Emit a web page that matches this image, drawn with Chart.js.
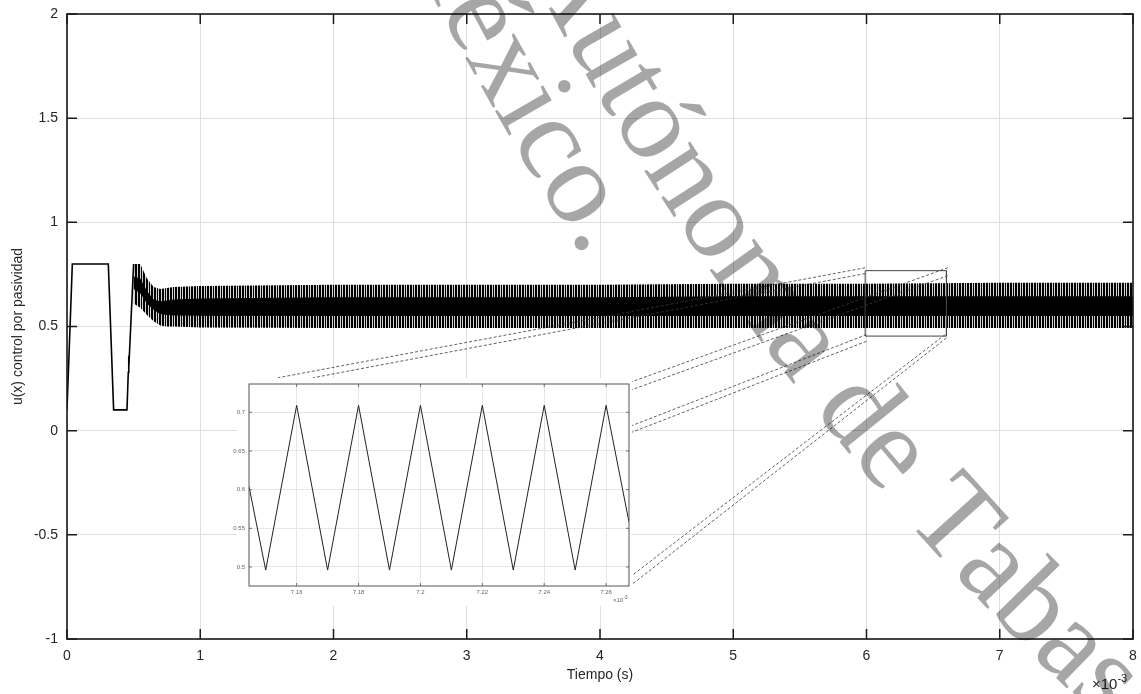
<!DOCTYPE html>
<html>
<head>
<meta charset="utf-8">
<script src="https://cdn.jsdelivr.net/npm/chart.js@4.4.1/dist/chart.umd.min.js"></script>
<style>
  html, body { margin: 0; padding: 0; background: #fff; }
  #wrap { position: relative; width: 1141px; height: 694px; }
  #main { position: absolute; left: 0; top: 0; }
  #zoom { position: absolute; left: 230px; top: 378px; }
</style>
</head>
<body>
<div id="wrap">
  <canvas id="main" width="1141" height="694"></canvas>
  <canvas id="zoom" width="402" height="228"></canvas>
</div>
<script>
// tiempo en ms (el eje lleva el factor x10^-3)
const tArranque = [0, 0.04, 0.31, 0.35, 0.45, 0.46, 0.462, 0.465, 0.50];
const uArranque = [0.10, 0.80, 0.80, 0.10, 0.10, 0.28, 0.36, 0.30, 0.80];

// envolvente de la oscilacion (banda negra)
const tBanda = [0.50, 0.55, 0.60, 0.65, 0.70, 0.75, 0.80, 1.0, 2.0, 3.0, 4.0, 5.0, 6.0, 7.0, 8.0];
const uMaxBanda = [0.80, 0.80, 0.73, 0.69, 0.68, 0.685, 0.69, 0.695, 0.70, 0.70, 0.70, 0.705, 0.705, 0.71, 0.71];
const uMinBanda = [0.61, 0.59, 0.555, 0.525, 0.505, 0.50, 0.50, 0.495, 0.493, 0.493, 0.493, 0.493, 0.493, 0.493, 0.493];
const uMaxNucleo = [0.74, 0.73, 0.67, 0.63, 0.62, 0.625, 0.63, 0.635, 0.64, 0.64, 0.64, 0.645, 0.645, 0.645, 0.645];
const uMinNucleo = [0.68, 0.66, 0.61, 0.58, 0.56, 0.555, 0.553, 0.552, 0.55, 0.55, 0.55, 0.55, 0.55, 0.55, 0.55];

const xTicks = [0, 1, 2, 3, 4, 5, 6, 7, 8];
const yTicks = [-1, -0.5, 0, 0.5, 1, 1.5, 2];

// recuadro del zoom y lineas de enlace
const cajaX = [5.99, 6.60, 6.60, 5.99, 5.99];
const cajaY = [0.768, 0.768, 0.454, 0.454, 0.768];
const enlaceDesdeX = [5.99, 5.99, 6.61, 6.61, 6.00, 6.00, 6.59, 6.60];
const enlaceDesdeY = [0.782, 0.754, 0.782, 0.744, 0.461, 0.429, 0.461, 0.445];
const enlaceHastaX = [1.583, 1.846, 4.24, 4.24, 4.238, 4.238, 4.238, 4.238];
const enlaceHastaY = [0.254, 0.254, 0.235, 0.197, 0.024, -0.008, -0.696, -0.739];

// detalle ampliado
const tZoom = [7.1446, 7.15, 7.16, 7.17, 7.18, 7.19, 7.20, 7.21, 7.22, 7.23, 7.24, 7.25, 7.26, 7.2674];
const uZoom = [0.604, 0.496, 0.709, 0.496, 0.709, 0.496, 0.709, 0.496, 0.709, 0.496, 0.709, 0.496, 0.709, 0.558];
const xTicksZoom = [7.16, 7.18, 7.2, 7.22, 7.24, 7.26];
const yTicksZoom = [0.5, 0.55, 0.6, 0.65, 0.7];

const fuente = '"Liberation Sans", Arial, Helvetica, sans-serif';
const pares = (xs, ys) => xs.map((x, i) => ({ x, y: ys[i] }));

// rayado vertical para la banda (periodo ~2.7 px)
const rayas = document.createElement('canvas');
rayas.width = 8; rayas.height = 4;
const rctx = rayas.getContext('2d');
rctx.fillStyle = '#000';
rctx.fillRect(0, 0, 8, 4);
rctx.fillStyle = '#d4d4d4';
[1, 4, 6].forEach(x => rctx.fillRect(x, 0, 1, 4));
const patronRayas = rctx.createPattern(rayas, 'repeat');

const marcas = {
  id: 'marcas',
  afterDraw(chart, args, o) {
    const { ctx, chartArea: a, scales: { x, y } } = chart;
    ctx.save();
    ctx.strokeStyle = o.color;
    ctx.lineWidth = o.tickWidth;
    ctx.beginPath();
    x.ticks.forEach(t => {
      const px = x.getPixelForValue(t.value);
      ctx.moveTo(px, a.bottom); ctx.lineTo(px, a.bottom - o.len);
      ctx.moveTo(px, a.top); ctx.lineTo(px, a.top + o.len);
    });
    y.ticks.forEach(t => {
      const py = y.getPixelForValue(t.value);
      ctx.moveTo(a.left, py); ctx.lineTo(a.left + o.len, py);
      ctx.moveTo(a.right, py); ctx.lineTo(a.right - o.len, py);
    });
    ctx.stroke();
    ctx.lineWidth = o.boxWidth;
    ctx.strokeRect(a.left, a.top, a.right - a.left, a.bottom - a.top);
    // factor de escala del eje x
    ctx.fillStyle = o.textColor;
    ctx.textAlign = 'left';
    ctx.textBaseline = 'alphabetic';
    ctx.font = o.expSize + 'px ' + fuente;
    ctx.fillText('\u00d710', o.expX, o.expY);
    const w = ctx.measureText('\u00d710').width;
    ctx.font = Math.round(o.expSize * 0.75) + 'px ' + fuente;
    ctx.fillText('-3', o.expX + w, o.expY - o.expSize * 0.45);
    ctx.restore();
  }
};

function textoEnArco(ctx, texto, cx, cy, r, phiAncla, idxAncla) {
  const letras = [...texto];
  const anchos = letras.map(c => ctx.measureText(c).width);
  let antes = anchos[idxAncla] / 2;
  for (let i = 0; i < idxAncla; i++) antes += anchos[i];
  let phi = phiAncla + antes / r;
  letras.forEach((c, i) => {
    const mid = phi - anchos[i] / 2 / r;
    ctx.save();
    ctx.translate(cx + r * Math.cos(mid), cy + r * Math.sin(mid));
    ctx.rotate(mid - Math.PI / 2);
    ctx.fillText(c, 0, 0);
    ctx.restore();
    phi -= anchos[i] / r;
  });
}

const marcaAgua = {
  id: 'marcaAgua',
  afterDraw(chart) {
    const ctx = chart.ctx;
    const g = Math.PI / 180;
    ctx.save();
    ctx.fillStyle = 'rgba(0,0,0,0.35)';
    ctx.font = '119px "Liberation Serif", "DejaVu Serif", serif';
    ctx.textAlign = 'center';
    ctx.textBaseline = 'alphabetic';
    const linea1 = 'Universidad Juárez Autónoma de Tabasco';
    textoEnArco(ctx, linea1, 2996, -1319, 2784, 142.8 * g, linea1.indexOf('ma de') + 1);
    const linea2 = 'México.';
    textoEnArco(ctx, linea2, 2996, -1319, 2881, 147.1 * g, linea2.length - 1);
    ctx.restore();
  }
};

const enlaces = enlaceDesdeX.map((x0, i) => ({
  data: [{ x: x0, y: enlaceDesdeY[i] }, { x: enlaceHastaX[i], y: enlaceHastaY[i] }],
  borderColor: '#3a3a3a',
  borderWidth: 0.8,
  borderDash: [3, 2],
  fill: false
}));

const sinBorde = { borderColor: 'rgba(0,0,0,0)', borderWidth: 0 };

// Chart.js pinta el primer dataset encima
new Chart(document.getElementById('main'), {
  type: 'line',
  data: {
    datasets: [
      ...enlaces,
      { data: pares(cajaX, cajaY), borderColor: '#444', borderWidth: 1, fill: false },
      { data: pares(tArranque, uArranque), borderColor: '#000', borderWidth: 1.6, fill: false },
      { data: pares(tBanda, uMaxNucleo), ...sinBorde, fill: '+1', backgroundColor: '#000' },
      { data: pares(tBanda, uMinNucleo), ...sinBorde, fill: false },
      { data: pares(tBanda, uMaxBanda), ...sinBorde, fill: '+1', backgroundColor: patronRayas },
      { data: pares(tBanda, uMinBanda), ...sinBorde, fill: false }
    ]
  },
  options: {
    responsive: false,
    animation: false,
    layout: { padding: { top: 14, right: 8, left: 0, bottom: 0 } },
    plugins: {
      legend: { display: false },
      tooltip: { enabled: false },
      marcas: { color: '#1a1a1a', len: 10, tickWidth: 1.5, boxWidth: 1.6, textColor: '#262626', expSize: 15, expX: 1092, expY: 689 }
    },
    elements: { point: { radius: 0 }, line: { tension: 0 } },
    scales: {
      x: {
        type: 'linear', min: 0, max: 8,
        afterBuildTicks: s => { s.ticks = xTicks.map(v => ({ value: v })); },
        afterFit: s => { s.height = 55; s.paddingLeft = 0; s.paddingRight = 0; },
        grid: { color: '#dedede', drawTicks: false },
        border: { display: false },
        ticks: { font: { family: fuente, size: 14 }, color: '#262626', padding: 9, maxRotation: 0, autoSkip: false, callback: v => String(v) },
        title: { display: true, text: 'Tiempo (s)', font: { family: fuente, size: 14 }, color: '#262626', padding: { top: 0, bottom: 10 } }
      },
      y: {
        type: 'linear', min: -1, max: 2,
        afterBuildTicks: s => { s.ticks = yTicks.map(v => ({ value: v })); },
        afterFit: s => { s.width = 67; s.paddingTop = 0; s.paddingBottom = 0; },
        grid: { color: '#dedede', drawTicks: false },
        border: { display: false },
        ticks: { font: { family: fuente, size: 14 }, color: '#262626', padding: 9, callback: v => String(v) },
        title: { display: true, text: 'u(x) control por pasividad', font: { family: fuente, size: 14 }, color: '#262626', padding: { top: 10, bottom: 0 } }
      }
    }
  },
  plugins: [marcas, marcaAgua]
});

const fondoBlanco = {
  id: 'fondoBlanco',
  beforeDraw(chart) {
    const ctx = chart.ctx;
    ctx.save();
    ctx.fillStyle = '#fff';
    ctx.fillRect(7, 0, chart.width - 7, chart.height);
    ctx.restore();
  }
};

new Chart(document.getElementById('zoom'), {
  type: 'line',
  data: {
    datasets: [
      { data: pares(tZoom, uZoom), borderColor: '#222', borderWidth: 1, fill: false }
    ]
  },
  options: {
    responsive: false,
    animation: false,
    layout: { padding: { top: 6, right: 3, left: 0, bottom: 0 } },
    plugins: {
      legend: { display: false },
      tooltip: { enabled: false },
      marcas: { color: '#555', len: 3, tickWidth: 0.8, boxWidth: 1, textColor: '#666', expSize: 6, expX: 383, expY: 224 }
    },
    elements: { point: { radius: 0 }, line: { tension: 0 } },
    scales: {
      x: {
        type: 'linear', min: 7.1446, max: 7.2674,
        afterBuildTicks: s => { s.ticks = xTicksZoom.map(v => ({ value: v })); },
        afterFit: s => { s.height = 20; s.paddingLeft = 0; s.paddingRight = 0; },
        grid: { color: '#e6e6e6', drawTicks: false },
        border: { display: false },
        ticks: { font: { family: fuente, size: 6 }, color: '#666', padding: 3, maxRotation: 0, autoSkip: false, callback: v => String(v) }
      },
      y: {
        type: 'linear', min: 0.4754, max: 0.7366,
        afterBuildTicks: s => { s.ticks = yTicksZoom.map(v => ({ value: v })); },
        afterFit: s => { s.width = 19; s.paddingTop = 0; s.paddingBottom = 0; },
        grid: { color: '#e6e6e6', drawTicks: false },
        border: { display: false },
        ticks: { font: { family: fuente, size: 6 }, color: '#666', padding: 4, callback: v => String(v) }
      }
    }
  },
  plugins: [fondoBlanco, marcas]
});
</script>
</body>
</html>
